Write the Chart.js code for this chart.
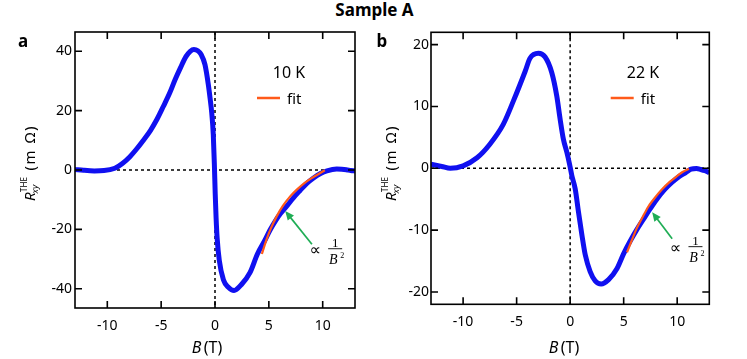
<!DOCTYPE html>
<html>
<head>
<meta charset="utf-8">
<script src="https://cdn.jsdelivr.net/npm/chart.js@4.4.0/dist/chart.umd.min.js"></script>
<style>
  body { margin: 0; background: #fff; }
  #wrap { position: relative; width: 747px; height: 359px; overflow: hidden; }
  #title { position: absolute; left: 0; top: 0; width: 747px; padding-left: 1px; text-align: center;
           font: bold 17px "Noto Sans"; line-height: 20px; }
  canvas { position: absolute; top: 0; }
</style>
</head>
<body>
<div id="wrap">
  <div id="title">Sample A</div>
  <canvas id="chartA" width="370" height="359" style="left:0"></canvas>
  <canvas id="chartB" width="377" height="359" style="left:370px"></canvas>
</div>
<script>
// Panel a, 10 K
const fieldA = [-13, -12.2, -11.2, -10.3, -9.3, -8.6, -7.9, -7.3, -6.7, -6.0, -5.4, -4.8, -4.2, -3.7, -3.2,
  -2.7, -2.3, -1.96, -1.6, -1.3, -0.93, -0.62, -0.45, -0.31, -0.16, -0.06, 0.02, 0.1, 0.2, 0.4, 0.78,
  1.24, 1.77, 2.48, 3.26, 3.94, 4.66, 5.1, 5.6, 6.1, 6.7, 7.3, 7.9, 8.5, 9.15, 9.8, 10.4, 11.3, 12.2, 12.6, 13];
const rxyA = [0.2, -0.1, -0.3, -0.2, 0.6, 2.2, 4.5, 7, 9.8, 13.3, 17, 21.4, 26, 30.5, 34.5,
  38.2, 40.0, 40.6, 40.2, 39.0, 35.5, 28.8, 24, 19.5, 12, 2, -8, -16, -23, -30.5, -37.0,
  -39.5, -40.6, -38.5, -34.5, -28.3, -23.5, -20.3, -17.2, -14.6, -12.0, -9.3, -6.9, -4.6, -2.7, -1.2, -0.3, 0.3, 0.1, -0.2, -0.3];
const fitFieldA = [4.35, 4.8, 5.2, 5.7, 6.3, 7.0, 7.6, 8.3, 8.9, 9.5, 10.2];
const fitA = [-28.3, -23.3, -19.6, -15.8, -12.1, -8.8, -6.6, -4.4, -2.9, -1.6, -0.1];

// Panel b, 22 K
const fieldB = [-13, -12, -11.2, -10, -8.7, -7.5, -6.25, -5.3, -4.2, -3.75, -2.97, -2.34, -1.72, -1.25,
  -0.94, -0.63, -0.31, -0.06, 0.16, 0.47, 0.78, 1.1, 1.41, 1.87, 2.34, 2.9, 3.59, 4.38, 5.0, 5.6, 6.2,
  6.9, 7.5, 8.1, 8.8, 9.5, 10.2, 10.8, 11.3, 11.8, 12.2, 12.6, 13];
const rxyB = [0.65, 0.3, 0.0, 0.4, 1.7, 3.9, 7.1, 10.9, 15.7, 17.8, 18.6, 18.0, 15.5, 11.7,
  8.0, 4.7, 2.6, 0.7, -1.2, -3.3, -7.1, -10.8, -14.0, -16.7, -18.2, -18.7, -18.0, -16.2, -13.8, -11.8, -10.0,
  -8.1, -6.5, -5.0, -3.5, -2.3, -1.3, -0.7, -0.15, -0.05, -0.2, -0.4, -0.7];
const fitFieldB = [5.31, 5.7, 6.25, 6.8, 7.34, 7.9, 8.59, 9.3, 10, 10.5, 11.09];
const fitB = [-13.6, -11.9, -9.6, -7.8, -6.1, -4.8, -3.4, -2.2, -1.24, -0.6, -0.06];

const xTicks = [-10, -5, 0, 5, 10];
const yTicksA = [-40, -20, 0, 20, 40];
const yTicksB = [-20, -10, 0, 10, 20];

const FONT = '"Noto Sans", sans-serif';
const BLUE = '#1010f0';
const ORANGE = '#ff5a1a';
const GREEN = '#1fad55';

function pts(xs, ys) {
  return xs.map((x, i) => ({ x: x, y: ys[i] }));
}

function drawYTitle(ctx, bx, by) {
  ctx.save();
  ctx.translate(bx, by);
  ctx.rotate(-Math.PI / 2);
  ctx.fillStyle = '#000';
  ctx.textBaseline = 'alphabetic';
  ctx.textAlign = 'left';
  ctx.font = 'italic 15px ' + FONT;
  ctx.fillText('R', 0, 0);
  let x = ctx.measureText('R').width;
  ctx.font = '8px ' + FONT;
  ctx.fillText('THE', x + 0.5, -8);
  const w1 = ctx.measureText('THE').width;
  ctx.font = 'italic 9px ' + FONT;
  ctx.fillText('xy', x - 1, 3);
  x += w1 + 7;
  // unit, spaced out a little like the original
  ctx.font = '15px ' + FONT;
  for (const ch of '(m \u03a9)') {
    ctx.fillText(ch, x, 0);
    x += ctx.measureText(ch).width + 1.6;
  }
  ctx.restore();
}

function drawXTitle(ctx, cx, by) {
  ctx.save();
  ctx.fillStyle = '#000';
  ctx.textBaseline = 'alphabetic';
  ctx.font = 'italic 16px ' + FONT;
  const w1 = ctx.measureText('B').width;
  ctx.font = '16px ' + FONT;
  const w2 = ctx.measureText('(T)').width;
  const gap = 7;
  let x = cx - (w1 + gap + w2) / 2;
  ctx.font = 'italic 16px ' + FONT;
  ctx.fillText('B', x, by);
  ctx.font = '16px ' + FONT;
  ctx.fillText('(T)', x + w1 + gap, by);
  ctx.restore();
}

const decor = {
  id: 'decor',
  beforeDatasetsDraw(chart, args, o) {
    const { ctx, chartArea: a, scales: { x, y } } = chart;
    const x0 = x.getPixelForValue(0), y0 = y.getPixelForValue(0);
    ctx.save();
    ctx.strokeStyle = '#000';
    ctx.lineWidth = 1.5;
    ctx.setLineDash([3, 3]);
    ctx.beginPath();
    ctx.moveTo(a.left, y0); ctx.lineTo(a.right, y0);
    ctx.moveTo(x0, a.top); ctx.lineTo(x0, a.bottom);
    ctx.stroke();
    ctx.restore();
  },
  afterDatasetsDraw(chart, args, o) {
    const { ctx, chartArea: a, scales: { x, y } } = chart;
    ctx.save();
    // frame with inward ticks
    ctx.strokeStyle = '#000';
    ctx.lineWidth = 1.6;
    ctx.strokeRect(a.left, a.top, a.right - a.left, a.bottom - a.top);
    ctx.beginPath();
    x.ticks.forEach(t => {
      const px = x.getPixelForValue(t.value);
      ctx.moveTo(px, a.bottom); ctx.lineTo(px, a.bottom - 7);
      ctx.moveTo(px, a.top); ctx.lineTo(px, a.top + 7);
    });
    y.ticks.forEach(t => {
      const py = y.getPixelForValue(t.value);
      ctx.moveTo(a.left, py); ctx.lineTo(a.left + 7, py);
      ctx.moveTo(a.right, py); ctx.lineTo(a.right - 7, py);
    });
    ctx.stroke();

    // panel letter
    ctx.fillStyle = '#000';
    ctx.font = 'bold 17px ' + FONT;
    ctx.fillText(o.letter, o.letterX, 46.5);

    // temperature and legend
    ctx.font = '16px ' + FONT;
    ctx.textAlign = 'center';
    ctx.fillText(o.temp, o.tempX, 78);
    ctx.textAlign = 'left';
    ctx.strokeStyle = ORANGE;
    ctx.lineWidth = 2.5;
    ctx.beginPath();
    ctx.moveTo(o.fitX, 98); ctx.lineTo(o.fitX + 23, 98);
    ctx.stroke();
    ctx.font = '15px ' + FONT;
    ctx.fillText('fit', o.fitX + 30, 104);

    // arrow pointing to the fit
    const hx = x.getPixelForValue(o.arrow[0]), hy = y.getPixelForValue(o.arrow[1]);
    const tx = x.getPixelForValue(o.arrow[2]), ty = y.getPixelForValue(o.arrow[3]);
    const ang = Math.atan2(hy - ty, hx - tx);
    ctx.strokeStyle = GREEN;
    ctx.fillStyle = GREEN;
    ctx.lineWidth = 1.7;
    ctx.beginPath();
    ctx.moveTo(tx, ty);
    ctx.lineTo(hx - 6 * Math.cos(ang), hy - 6 * Math.sin(ang));
    ctx.stroke();
    ctx.beginPath();
    ctx.moveTo(hx, hy);
    ctx.lineTo(hx - 9 * Math.cos(ang) + 4 * Math.sin(ang), hy - 9 * Math.sin(ang) - 4 * Math.cos(ang));
    ctx.lineTo(hx - 9 * Math.cos(ang) - 4 * Math.sin(ang), hy - 9 * Math.sin(ang) + 4 * Math.cos(ang));
    ctx.closePath();
    ctx.fill();

    // proportional to 1/B^2
    const lx = x.getPixelForValue(o.label[0]), ly = y.getPixelForValue(o.label[1]);
    ctx.fillStyle = '#000';
    ctx.textAlign = 'center';
    ctx.textBaseline = 'middle';
    ctx.font = '16px "DejaVu Sans"';
    ctx.fillText('\u221d', lx, ly);
    ctx.font = '13px "Liberation Serif"';
    ctx.textBaseline = 'alphabetic';
    ctx.fillText('1', lx + 20, ly - 4);
    ctx.strokeStyle = '#000';
    ctx.lineWidth = 0.9;
    ctx.beginPath();
    ctx.moveTo(lx + 13, ly - 2); ctx.lineTo(lx + 27, ly - 2);
    ctx.stroke();
    ctx.font = 'italic 14px "Liberation Serif"';
    ctx.fillText('B', lx + 18, ly + 13.5);
    ctx.font = '8px "Liberation Serif"';
    ctx.fillText('2', lx + 27, ly + 7);

    drawYTitle(ctx, o.yTitleX, 201);
    drawXTitle(ctx, o.xTitleX, 353);
    ctx.restore();
  }
};

function makePanel(id, xs, ys, fxs, fys, yLim, yTicks, pad, yLabelPad, deco) {
  new Chart(document.getElementById(id), {
    type: 'line',
    data: {
      datasets: [
        { data: pts(fxs, fys), borderColor: ORANGE, borderWidth: 2.2, pointRadius: 0, tension: 0.3, order: 0 },
        { data: pts(xs, ys), borderColor: BLUE, borderWidth: 5, pointRadius: 0,
          cubicInterpolationMode: 'monotone', order: 1 }
      ]
    },
    options: {
      responsive: false,
      animation: false,
      devicePixelRatio: 1,
      layout: { padding: pad },
      plugins: { legend: { display: false }, tooltip: { enabled: false }, decor: deco },
      scales: {
        x: {
          type: 'linear', min: -13, max: 13,
          afterFit: s => { s.height = 30; },
          afterBuildTicks: s => { s.ticks = xTicks.map(v => ({ value: v })); },
          grid: { display: false, drawTicks: false },
          border: { display: false },
          ticks: { padding: 9.5, color: '#000', font: { family: FONT, size: 14 } }
        },
        y: {
          min: -yLim, max: yLim,
          afterFit: s => { s.width = 40; },
          afterBuildTicks: s => { s.ticks = yTicks.map(v => ({ value: v })); },
          grid: { display: false, drawTicks: false },
          border: { display: false },
          ticks: { padding: yLabelPad, color: '#000', font: { family: FONT, size: 14 } }
        }
      }
    },
    plugins: [decor]
  });
}

makePanel('chartA', fieldA, rxyA, fitFieldA, fitA, 46.5, yTicksA,
  { left: 35, right: 15, top: 32, bottom: 21 }, 3,
  { letter: 'a', letterX: 18, temp: '10 K', tempX: 289, fitX: 257,
    arrow: [6.52, -13.8, 9.0, -25], label: [9.3, -27.2], yTitleX: 35, xTitleX: 214 });

makePanel('chartB', fieldB, rxyB, fitFieldB, fitB, 22, yTicksB,
  { left: 21, right: 37.7, top: 32.3, bottom: 24.7 }, 2,
  { letter: 'b', letterX: 6.5, temp: '22 K', tempX: 273, fitX: 240.7,
    arrow: [7.66, -7.1, 9.53, -11.4], label: [9.84, -13.0], yTitleX: 26, xTitleX: 201 });
</script>
</body>
</html>
